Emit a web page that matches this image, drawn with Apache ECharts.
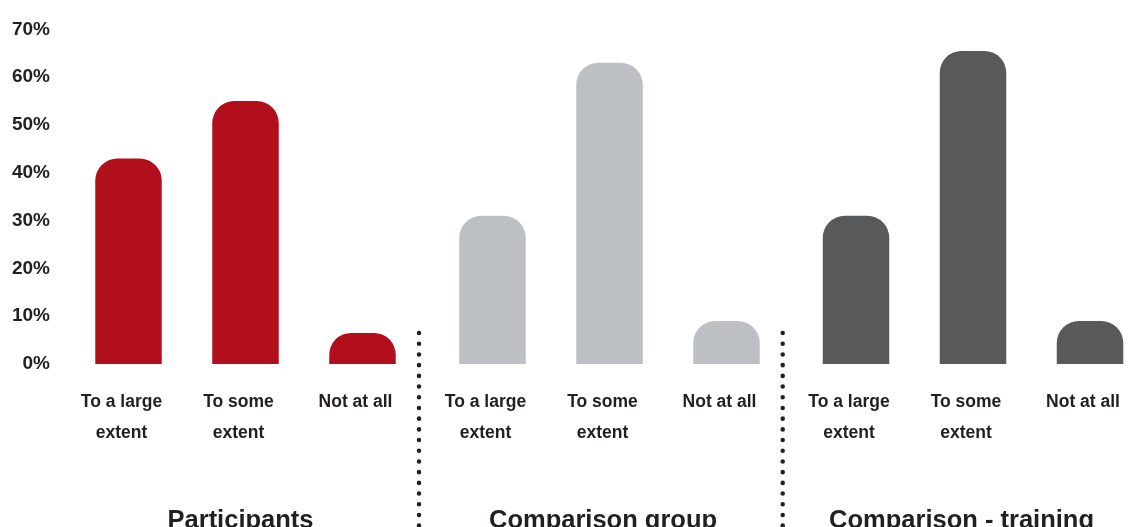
<!DOCTYPE html>
<html>
<head>
<meta charset="utf-8">
<script src="https://cdn.jsdelivr.net/npm/echarts@6/dist/echarts.min.js"></script>
<style>
  html, body { margin: 0; padding: 0; background: #ffffff; }
  #chart { width: 1137px; height: 527px; }
</style>
</head>
<body>
<div id="chart"></div>
<script>
// Response categories (shared by the three panels)
const categories = ['To a large\nextent', 'To some\nextent', 'Not at all'];
// Panel titles
const groupNames = ['Participants', 'Comparison group', 'Comparison - training'];
// Share of respondents per category, in percent
const participants = [43, 55, 6.5];
const comparisonGroup = [31, 63, 9];
const comparisonTraining = [31, 65.5, 9];
// Value axis range
const yMin = 0, yMax = 70, yStep = 10;

const groupValues = [participants, comparisonGroup, comparisonTraining];
const groupColors = ['#B20F1D', '#BCBFC3', '#58595B'];
const textColor = '#231F20';
const fontFamily = '"Liberation Sans", Arial, Helvetica, sans-serif';

// Panel placement: each grid spans from the first to the last bar centre
const panelLefts = [128.5, 492.5, 856];
const panelWidth = 234;
const panelTop = 29.4;
const panelBottom = 163;
const titleX = [240.5, 603, 961.5];
const dividerX = [419, 782.7];

const grids = panelLefts.map(l => ({ left: l, width: panelWidth, top: panelTop, bottom: panelBottom, containLabel: false }));

const xAxes = groupValues.map((_, i) => ({
  type: 'category',
  gridIndex: i,
  data: categories,
  boundaryGap: false,
  axisLine: { show: false },
  axisTick: { show: false },
  axisLabel: {
    interval: 0,
    margin: 23,
    color: textColor,
    fontFamily: fontFamily,
    fontWeight: 'bold',
    fontSize: 17.5,
    lineHeight: 31,
    padding: [0, 14, 0, 0]
  }
}));

const yAxes = groupValues.map((_, i) => ({
  type: 'value',
  gridIndex: i,
  min: yMin,
  max: yMax,
  interval: yStep,
  axisLine: { show: false },
  axisTick: { show: false },
  splitLine: { show: false },
  axisLabel: {
    show: i === 0,
    margin: 78.5,
    color: textColor,
    fontFamily: fontFamily,
    fontWeight: 'bold',
    fontSize: 19,
    padding: [0, 0, 17, 0],
    formatter: v => v + '%'
  }
}));

const series = groupValues.map((vals, i) => ({
  type: 'bar',
  xAxisIndex: i,
  yAxisIndex: i,
  data: vals,
  barWidth: 66.5,
  silent: true,
  itemStyle: { color: groupColors[i], borderRadius: [22, 22, 0, 0] }
}));

const graphics = [];
groupNames.forEach((name, i) => {
  graphics.push({
    type: 'text',
    x: titleX[i],
    y: 521,
    silent: true,
    style: {
      text: name,
      fill: textColor,
      font: 'bold 25.5px ' + fontFamily,
      align: 'center',
      verticalAlign: 'middle',
      textAlign: 'center',
      textVerticalAlign: 'middle'
    }
  });
});
dividerX.forEach(x => {
  graphics.push({
    type: 'line',
    silent: true,
    shape: { x1: x, y1: 333, x2: x, y2: 526 },
    style: { stroke: textColor, lineWidth: 4.5, lineCap: 'round', lineDash: [0.1, 10.6] }
  });
});

const chart = echarts.init(document.getElementById('chart'), null, { renderer: 'canvas' });
chart.setOption({
  animation: false,
  backgroundColor: '#ffffff',
  grid: grids,
  xAxis: xAxes,
  yAxis: yAxes,
  series: series,
  graphic: graphics
});
</script>
</body>
</html>
